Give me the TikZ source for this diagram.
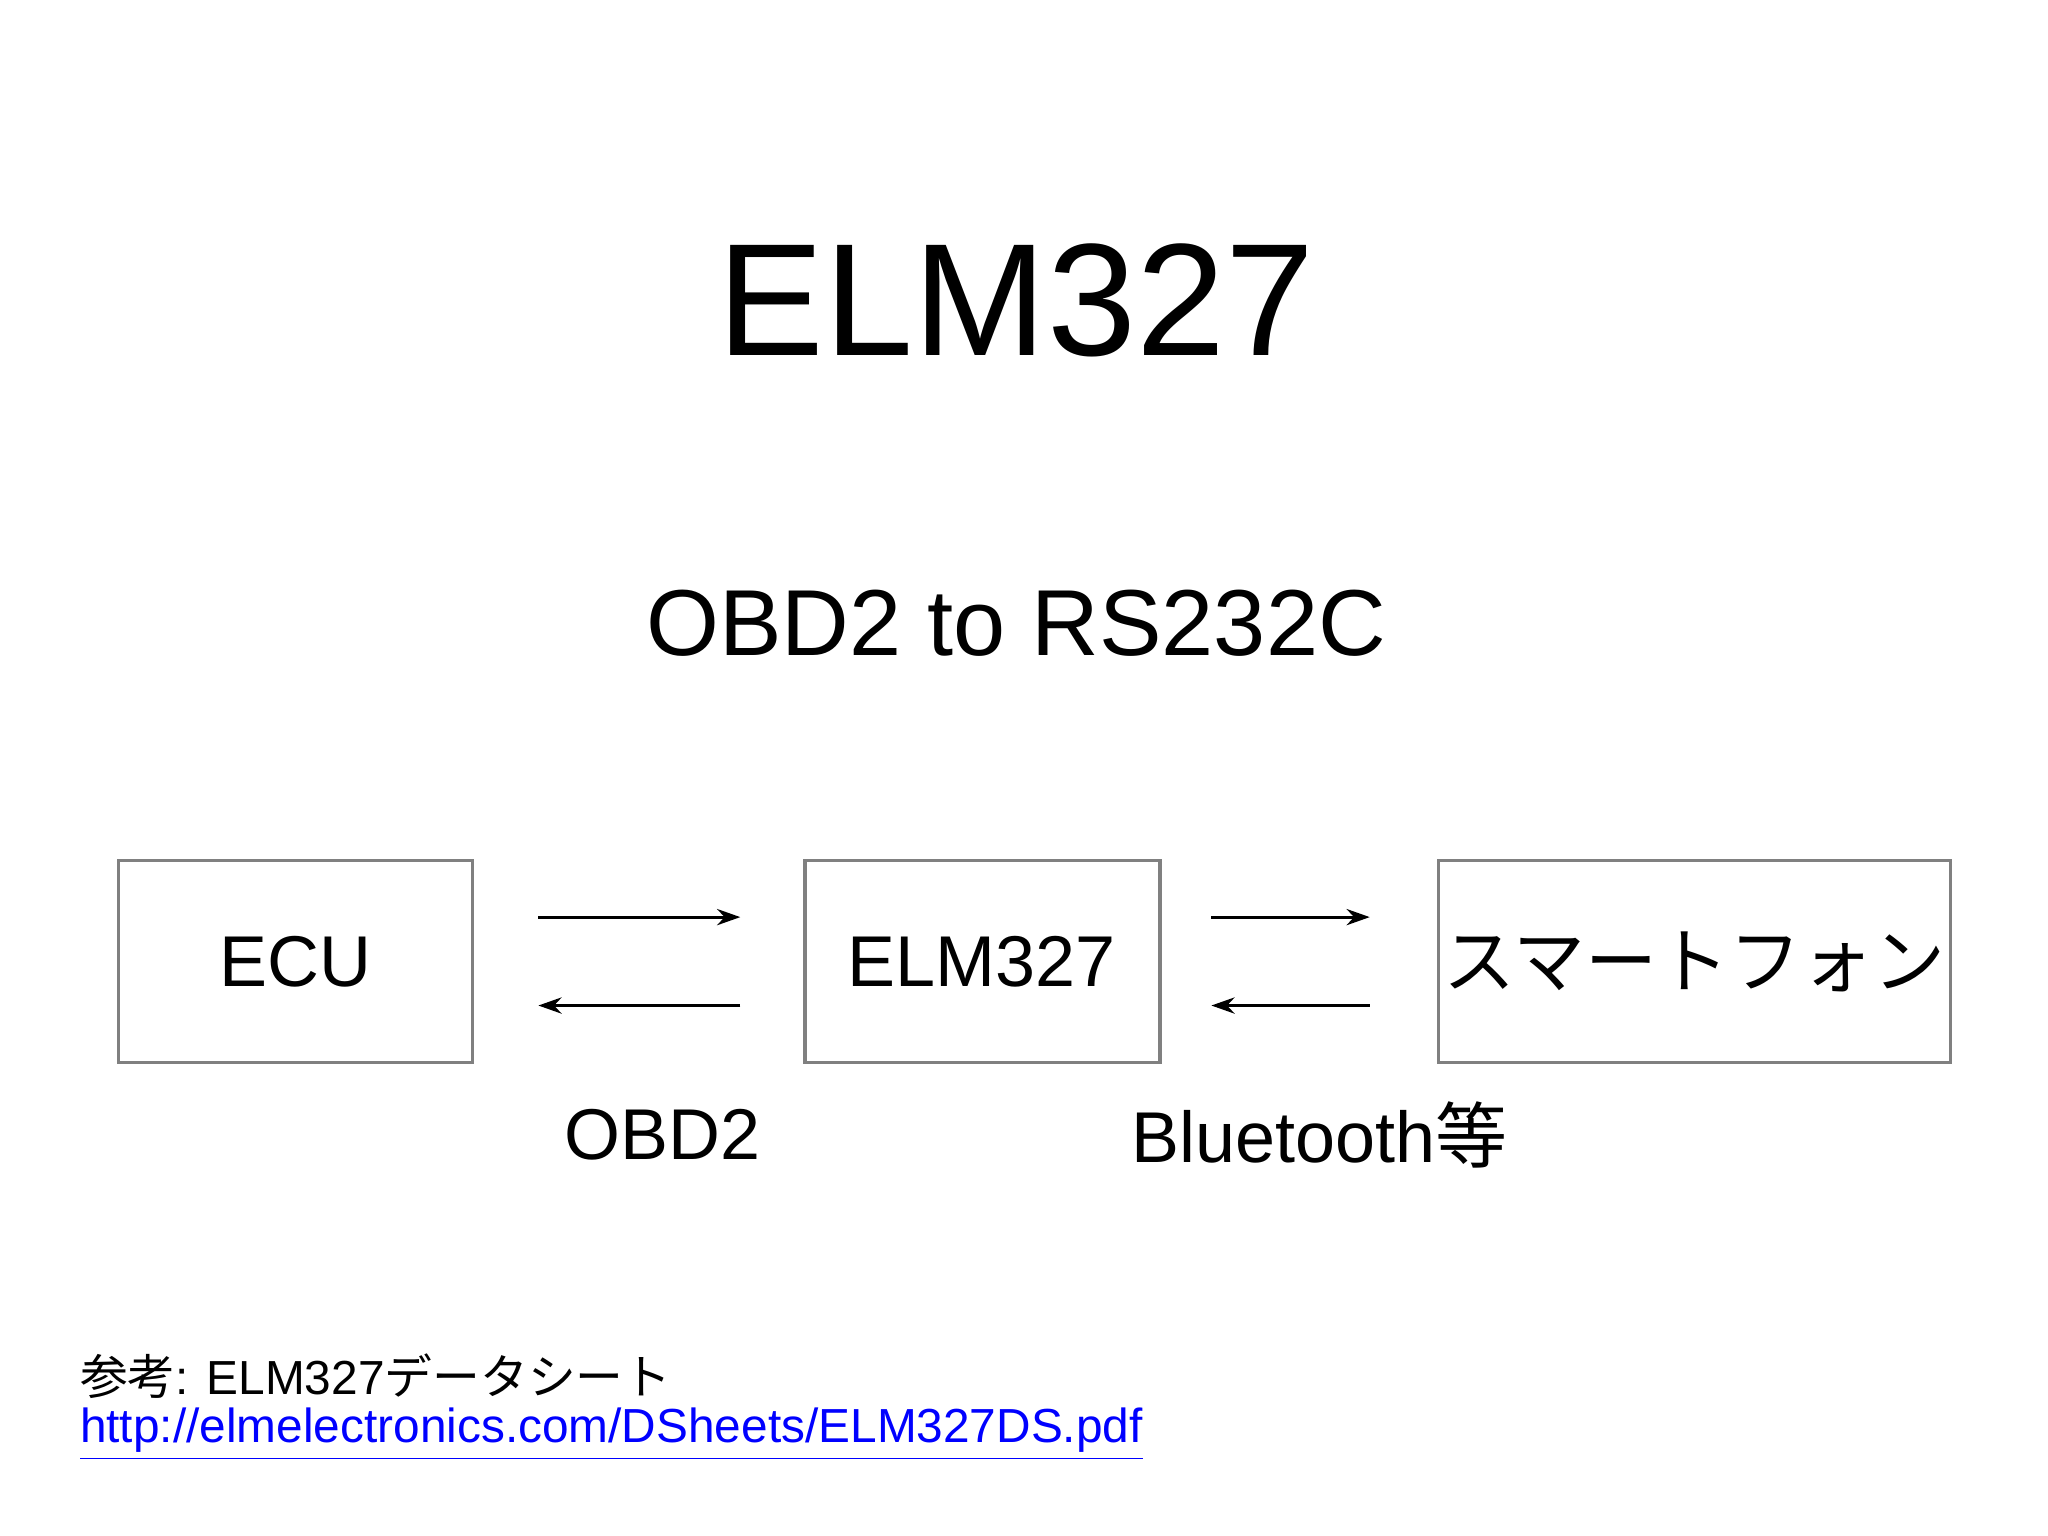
\documentclass[tikz,border=0pt]{standalone}
\usepackage{fontspec}
\setmainfont{Liberation Sans}
\newfontfamily\cjk{Noto Sans CJK JP}
\usetikzlibrary{arrows.meta}
\begin{document}
\begin{tikzpicture}[x=0.01cm,y=-0.01cm,
  arr/.style={-{Stealth[length=5pt,width=3.5pt]},line width=0.6pt},
  bx/.style={draw=black!50,line width=0.7pt},
  lbl/.style={font=\fontsize{15.5}{17}\selectfont}]
\useasboundingbox (0,0) rectangle (1552,1164);
\node[font=\fontsize{34.5}{36}\selectfont] (title) at (770,228) {ELM327};
\node[font=\fontsize{20.2}{22}\selectfont] (sub) at (770,472) {OBD2 to RS232C};
\draw[bx] (90,652) rectangle (358,805);
\draw[bx] (610,652) rectangle (879,805);
\draw[bx] (1090,652) rectangle (1478,805);
\node[lbl] (ecu) at (224,729) {ECU};
\node[lbl] (elm) at (744,729) {ELM327};
\node[lbl] (sp) at (1284,729) {\cjk スマートフォン};
\coordinate (a1) at (408,695); \coordinate (a2) at (561,695);
\coordinate (b1) at (561,762); \coordinate (b2) at (408,762);
\coordinate (c1) at (918,695); \coordinate (c2) at (1038,695);
\coordinate (d1) at (1038,762); \coordinate (d2) at (918,762);
\draw[arr] (a1) -- (a2);
\draw[arr] (b1) -- (b2);
\draw[arr] (c1) -- (c2);
\draw[arr] (d1) -- (d2);
\node[lbl] (obd) at (502,860) {OBD2};
\node[lbl] (bt) at (1000,860) {Bluetooth{\cjk 等}};
\node[anchor=west,font=\fontsize{10.3}{12}\selectfont,inner sep=0pt] (ref) at (60,1043) {{\cjk 参考}: ELM327{\cjk データシート}};
\node[anchor=west,font=\fontsize{10.3}{12}\selectfont,inner sep=0pt,text=blue] (url) at (60,1087) {\underline{http://elmelectronics.com/DSheets/ELM327DS.pdf}};
\end{tikzpicture}
\end{document}
